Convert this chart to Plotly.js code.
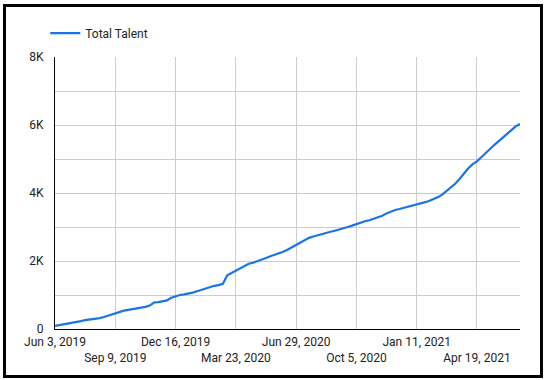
<!DOCTYPE html>
<html>
<head>
<meta charset="utf-8">
<script src="https://cdn.plot.ly/plotly-3.0.1.min.js"></script>
<style>
  html, body { margin: 0; padding: 0; background: #fff; }
  #wrap { position: relative; width: 545px; height: 380px; }
  #chart { position: absolute; left: 0; top: 0; width: 545px; height: 380px; }
  #frame { position: absolute; left: 3px; top: 4px; width: 540px; height: 374px;
           box-sizing: border-box; border: 3px solid #000; pointer-events: none; }
</style>
</head>
<body>
<div id="wrap"><div id="chart"></div><div id="frame"></div></div>
<script>
const seriesName = 'Total Talent';

const weeks = [
  '2019-06-03','2019-06-10','2019-06-17','2019-06-24','2019-07-01','2019-07-08','2019-07-15','2019-07-22','2019-07-29',
  '2019-08-05','2019-08-12','2019-08-19','2019-08-26','2019-09-02','2019-09-09','2019-09-16','2019-09-23','2019-09-30',
  '2019-10-07','2019-10-14','2019-10-21','2019-10-28','2019-11-04','2019-11-11','2019-11-18','2019-11-25',
  '2019-12-02','2019-12-09','2019-12-16','2019-12-23','2019-12-30',
  '2020-01-06','2020-01-13','2020-01-20','2020-01-27','2020-02-03','2020-02-10','2020-02-17','2020-02-24',
  '2020-03-02','2020-03-09','2020-03-16','2020-03-23','2020-03-30','2020-04-06','2020-04-13','2020-04-20','2020-04-27',
  '2020-05-04','2020-05-11','2020-05-18','2020-05-25','2020-06-01','2020-06-08','2020-06-15','2020-06-22','2020-06-29',
  '2020-07-06','2020-07-13','2020-07-20','2020-07-27','2020-08-03','2020-08-10','2020-08-17','2020-08-24','2020-08-31',
  '2020-09-07','2020-09-14','2020-09-21','2020-09-28','2020-10-05','2020-10-12','2020-10-19','2020-10-26',
  '2020-11-02','2020-11-09','2020-11-16','2020-11-23','2020-11-30','2020-12-07','2020-12-14','2020-12-21','2020-12-28',
  '2021-01-04','2021-01-11','2021-01-18','2021-01-25','2021-02-01','2021-02-08','2021-02-15','2021-02-22',
  '2021-03-01','2021-03-08','2021-03-15','2021-03-22','2021-03-29','2021-04-05','2021-04-12','2021-04-19','2021-04-26',
  '2021-05-03','2021-05-10','2021-05-17','2021-05-24','2021-05-31','2021-06-07','2021-06-14','2021-06-21','2021-06-28'
];

const totalTalent = [
  90,110,140,170,190,210,230,260,270,290,310,340,380,420,470,
  510,540,560,580,600,620,650,690,780,790,810,840,920,970,
  1000,1020,1040,1070,1110,1150,1190,1240,1270,1290,1330,1580,1650,1710,
  1780,1860,1920,1950,1990,2050,2090,2140,2180,2220,2270,2330,2400,2450,
  2520,2600,2680,2720,2760,2800,2830,2860,2890,2920,2960,3000,3040,3090,
  3130,3170,3200,3240,3280,3330,3400,3460,3500,3530,3560,3590,3630,3670,
  3700,3730,3770,3820,3880,3960,4070,4170,4280,4420,4580,4730,4850,4930,
  5050,5180,5300,5410,5520,5620,5740,5850,5960,6030
];

const xTickVals = ['2019-06-03','2019-09-09','2019-12-16','2020-03-23','2020-06-29','2020-10-05','2021-01-11','2021-04-19'];
const xTickText = ['Jun 3, 2019','<br>Sep 9, 2019','Dec 16, 2019','<br>Mar 23, 2020','Jun 29, 2020','<br>Oct 5, 2020','Jan 11, 2021','<br>Apr 19, 2021'];

const yTickVals = [0, 2000, 4000, 6000, 8000];
const yTickText = ['0', '2K', '4K', '6K', '8K'];

const trace = {
  x: weeks,
  y: totalTalent,
  type: 'scatter',
  mode: 'lines',
  name: seriesName,
  line: { color: '#1a73e8', width: 2.2 },
  showlegend: true
};

const layout = {
  width: 545,
  height: 380,
  margin: { l: 55, r: 25, t: 57, b: 51 },
  paper_bgcolor: '#fff',
  plot_bgcolor: '#fff',
  font: { family: 'Roboto, "Noto Sans", sans-serif', size: 12, color: '#222' },
  showlegend: true,
  legend: {
    orientation: 'h',
    x: -0.021, xanchor: 'left',
    y: 1.088, yanchor: 'middle',
    font: { size: 12, color: '#222' },
    bgcolor: 'rgba(0,0,0,0)'
  },
  xaxis: {
    type: 'date',
    range: ['2019-06-03', '2021-06-28'],
    tickvals: xTickVals,
    ticktext: xTickText,
    tickangle: 0,
    showgrid: true,
    gridcolor: '#cccccc',
    gridwidth: 1,
    showline: true,
    linecolor: '#000',
    linewidth: 1,
    ticks: '',
    ticklabelstandoff: 2,
    zeroline: false,
    fixedrange: true
  },
  yaxis: {
    range: [0, 8000],
    tickvals: yTickVals,
    ticktext: yTickText,
    showgrid: true,
    gridcolor: '#cccccc',
    gridwidth: 1,
    minor: { dtick: 1000, showgrid: true, gridcolor: '#cccccc', gridwidth: 1 },
    showline: true,
    linecolor: '#000',
    linewidth: 1,
    ticks: '',
    ticklabelstandoff: 8,
    zeroline: false,
    fixedrange: true
  }
};

Plotly.newPlot('chart', [trace], layout, { displayModeBar: false, staticPlot: true });
</script>
</body>
</html>
